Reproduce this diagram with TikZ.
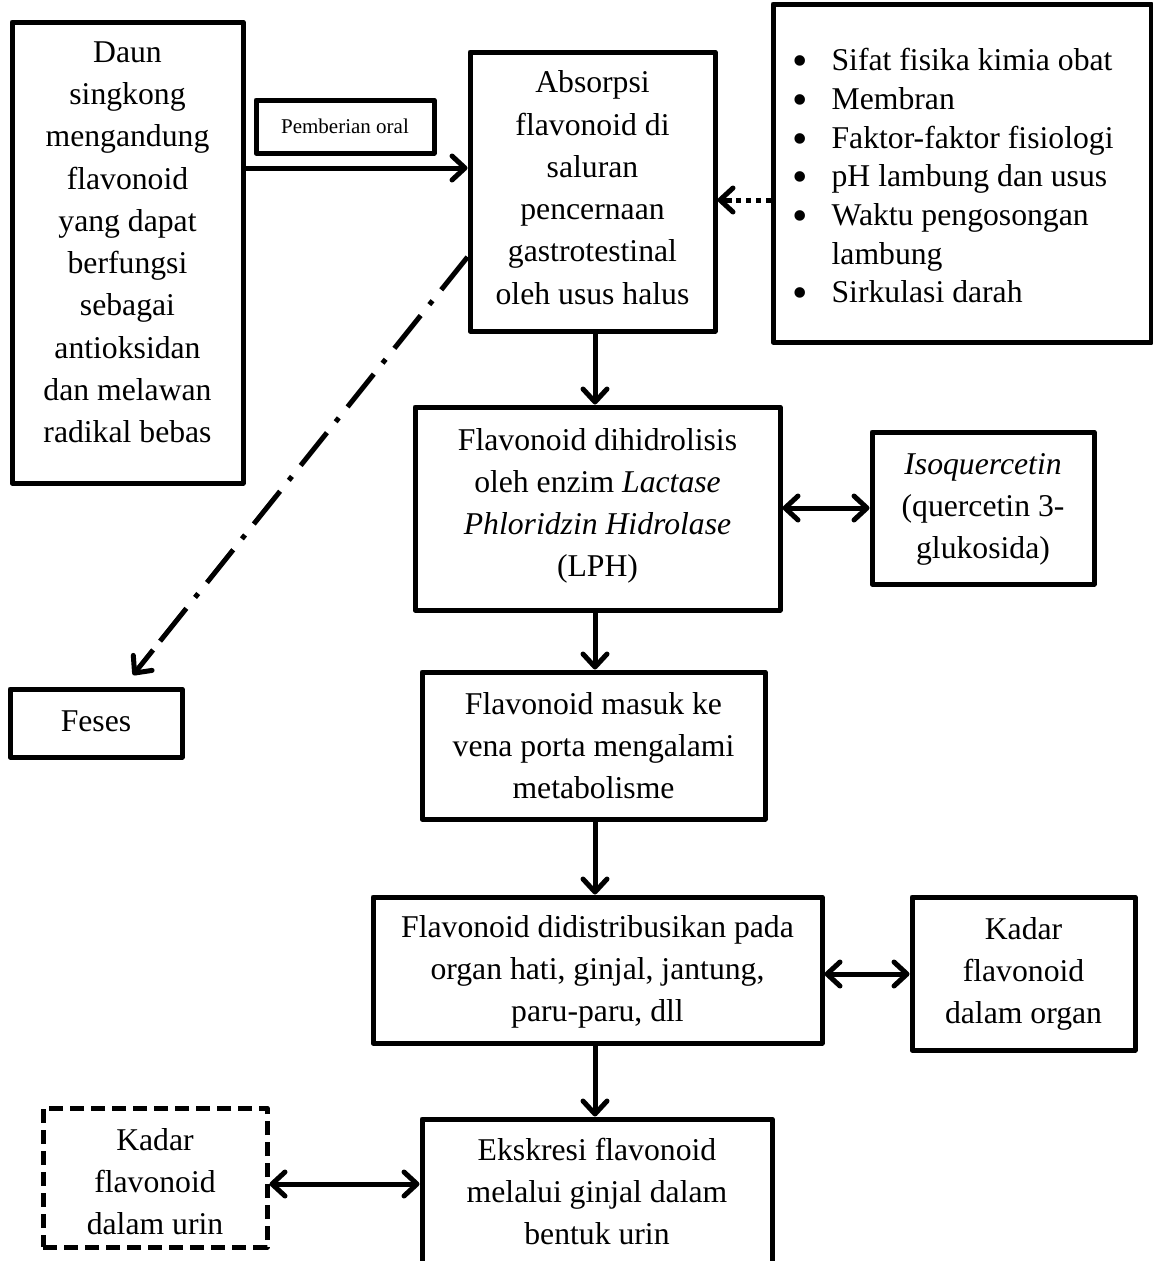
\documentclass[tikz,border=0pt]{standalone}
\usepackage{fontspec}
\setmainfont{Liberation Serif}
\usetikzlibrary{arrows.meta,calc}
\newcommand{\bigfont}{\fontsize{31.7}{42.3}\selectfont}
\newcommand{\bulfont}{\fontsize{31.7}{38.7}\selectfont}
\newcommand{\mybul}{\smash{\raisebox{-5pt}{\fontsize{44}{38.7}\selectfont\textbullet}}}
\begin{document}
\begin{tikzpicture}[x=1pt,y=-1pt,
  box/.style={draw, line width=5pt, line join=round, inner sep=0pt},
  dbox/.style={box, dash pattern=on 14pt off 7pt},
  txt/.style={align=center, inner sep=0pt, font=\bigfont},
  arr/.style={line width=5pt, -{Straight Barb[length=13pt,width=24pt,line cap=round,line join=round]}},
  darr/.style={line width=5pt, {Straight Barb[length=13pt,width=24pt,line cap=round,line join=round]}-{Straight Barb[length=13pt,width=24pt,line cap=round,line join=round]}},
  dotline/.style={line width=5pt, dash pattern=on 5pt off 5pt},
  dashline/.style={line width=5pt, dash pattern=on 42pt off 14pt on 5pt off 14pt}]
\useasboundingbox (0,0) rectangle (1153,1261);
\clip (0,0) rectangle (1153,1261);
\fill[white] (0,0) rectangle (1153,1261);

% boxes
\node[box, minimum width=231pt, minimum height=461pt] (daun) at (127.5,252.5) {};
\node[txt] (daunT) at (127.5,244) {\strut Daun\\singkong\\mengandung\\flavonoid\\yang dapat\\berfungsi\\sebagai\\antioksidan\\dan melawan\\radikal bebas\strut};

\node[box, minimum width=178pt, minimum height=53pt, font=\fontsize{21}{25}\selectfont] (oral) at (345,126.5) {Pemberian oral};

\node[box, minimum width=245pt, minimum height=279pt] (abs) at (592.5,191.5) {};
\node[txt] (absT) at (592.5,190) {\strut Absorpsi\\flavonoid di\\saluran\\pencernaan\\gastrotestinal\\oleh usus halus\strut};

\node[box, minimum width=378pt, minimum height=338pt] (bul) at (962,173) {};
\node[inner sep=0pt, anchor=west, font=\bulfont] (bulT) at (792,179) {%
\begin{tabular}{@{}l@{\hspace{24pt}}l@{}}
\mybul & Sifat fisika kimia obat\\
\mybul & Membran\\
\mybul & Faktor-faktor fisiologi\\
\mybul & pH lambung dan usus\\
\mybul & Waktu pengosongan\\
 & lambung\\
\mybul & Sirkulasi darah
\end{tabular}};

\node[box, minimum width=365pt, minimum height=203pt] (lph) at (597.5,508.5) {};
\node[txt] (lphT) at (597.5,505) {\strut Flavonoid dihidrolisis\\oleh enzim \textit{Lactase}\\\textit{Phloridzin Hidrolase}\\(LPH)\strut};

\node[box, minimum width=222pt, minimum height=152pt] (iso) at (983,508) {};
\node[txt] (isoT) at (983,508) {\strut\textit{Isoquercetin}\\(quercetin 3-\\glukosida)\strut};

\node[box, minimum width=172pt, minimum height=68pt] (feses) at (96,723) {};
\node[txt] (fesesT) at (96,723) {\strut Feses\strut};

\node[box, minimum width=343pt, minimum height=147pt] (masuk) at (593.5,745.5) {};
\node[txt] (masukT) at (593.5,748) {\strut Flavonoid masuk ke\\vena porta mengalami\\metabolisme\strut};

\node[box, minimum width=449pt, minimum height=146pt] (dist) at (597.5,970) {};
\node[txt] (distT) at (597.5,971) {\strut Flavonoid didistribusikan pada\\organ hati, ginjal, jantung,\\paru-paru, dll\strut};

\node[box, minimum width=223pt, minimum height=153pt] (organ) at (1023.5,973.5) {};
\node[txt] (organT) at (1023.5,973) {\strut Kadar\\flavonoid\\dalam organ\strut};

\node[dbox, minimum width=224pt, minimum height=139pt] (urin) at (155,1177.5) {};
\node[txt] (urinT) at (155,1184) {\strut Kadar\\flavonoid\\dalam urin\strut};

\node[box, minimum width=350pt, minimum height=171pt] (eks) at (597,1204.5) {};
\node[txt] (eksT) at (597,1194) {\strut Ekskresi flavonoid\\melalui ginjal dalam\\bentuk urin\strut};

% connectors
\coordinate (fesesTip) at (133,675);
\coordinate (absOut) at (abs.west |- {(0,257)});
\coordinate (dotStart) at (bul.west |- {(0,200)});
\coordinate (dotEnd) at (abs.east |- {(0,200)});
\draw[arr] (daun.east |- {(0,168)}) -- (abs.west |- {(0,168)});
\draw[dotline] (dotStart) -- ($(dotEnd)+(12,0)$);
\draw[arr] ($(dotEnd)+(14,0)$) -- (dotEnd);
\draw[dashline] (absOut) -- ($(absOut)!0.94!(fesesTip)$);
\draw[arr] ($(absOut)!0.94!(fesesTip)$) -- (fesesTip);
\draw[arr] (abs.south -| {(595,0)}) -- (lph.north -| {(595,0)});
\draw[darr] (lph.east |- {(0,508)}) -- (iso.west |- {(0,508)});
\draw[arr] (lph.south -| {(595,0)}) -- (masuk.north -| {(595,0)});
\draw[arr] (masuk.south -| {(595,0)}) -- (dist.north -| {(595,0)});
\draw[darr] (dist.east |- {(0,974)}) -- (organ.west |- {(0,974)});
\draw[arr] (dist.south -| {(595,0)}) -- (eks.north -| {(595,0)});
\draw[darr] (urin.east |- {(0,1184)}) -- (eks.west |- {(0,1184)});
\end{tikzpicture}
\end{document}
